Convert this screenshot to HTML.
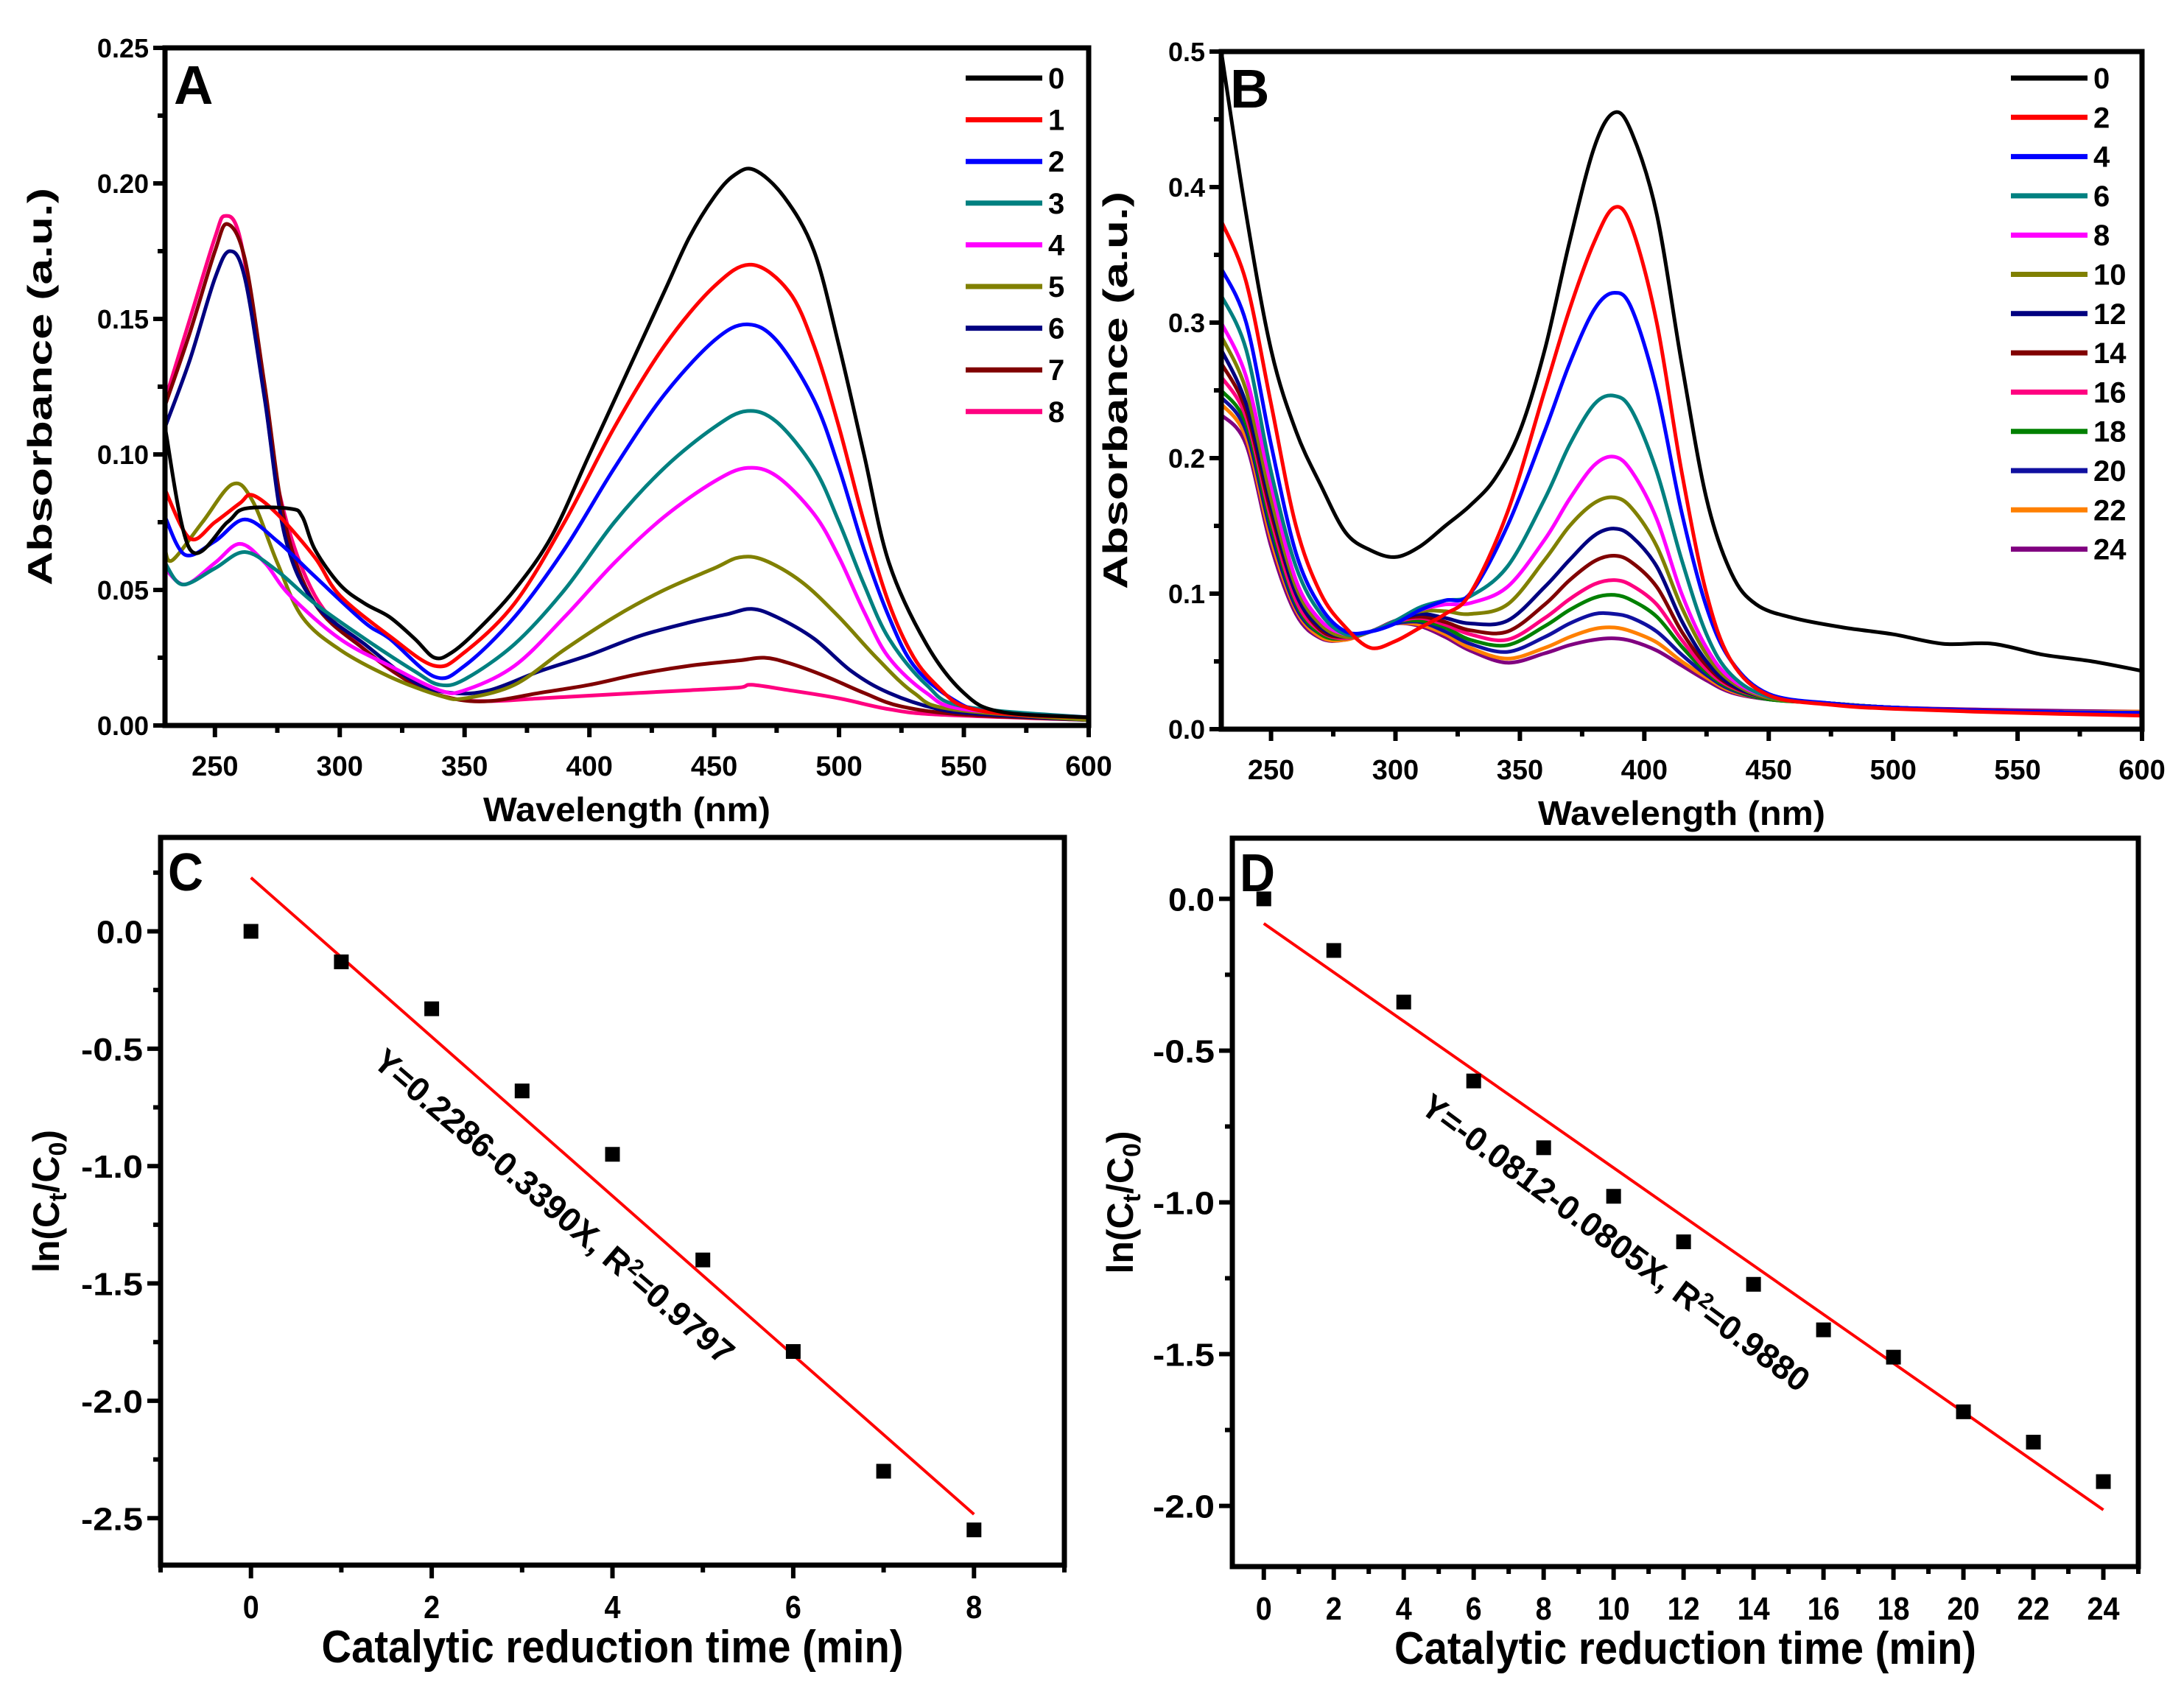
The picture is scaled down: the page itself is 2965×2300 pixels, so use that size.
<!DOCTYPE html>
<html><head><meta charset="utf-8">
<style>
html,body{margin:0;padding:0;background:#fff;}
svg{display:block;font-family:"Liberation Sans",Arial,sans-serif;font-weight:bold;}
</style></head>
<body>
<svg id="fig" width="2965" height="2300" viewBox="0 0 2965 2300" xmlns="http://www.w3.org/2000/svg"></svg>
<script>
// ---------- Panel A data ----------
const aLabels = ["0","1","2","3","4","5","6","7","8"];
const aColors = ["#000000","#ff0000","#0000ff","#008080","#ff00ff","#808000","#000080","#800000","#ff0080"];
const aW0 = [230,240,255,262,280,285,290,300,310,320,330,338,345,355,370,385,400,415,430,440,450,458,466,478,490,500,510,520,535,550,565,600];
const aV0 = [0.110,0.065,0.075,0.080,0.080,0.077,0.065,0.052,0.045,0.040,0.032,0.025,0.027,0.035,0.050,0.070,0.100,0.130,0.160,0.180,0.195,0.203,0.205,0.195,0.175,0.140,0.100,0.060,0.030,0.012,0.005,0.003];
const aW1 = [230,240,250,260,265,275,290,300,320,338,350,370,390,410,430,450,465,480,490,500,510,520,530,540,550,570,600];
const aV1 = [0.087,0.069,0.075,0.082,0.085,0.078,0.062,0.048,0.033,0.022,0.027,0.045,0.075,0.110,0.140,0.162,0.170,0.160,0.140,0.110,0.075,0.045,0.025,0.014,0.007,0.004,0.003];
const aW2 = [230,238,250,262,275,290,310,320,338,350,370,390,410,430,450,463,475,490,500,510,520,530,545,560,600];
const aV2 = [0.077,0.063,0.068,0.076,0.068,0.055,0.038,0.032,0.018,0.022,0.040,0.065,0.095,0.122,0.142,0.148,0.142,0.120,0.095,0.065,0.040,0.022,0.010,0.005,0.003];
const aW3 = [230,237,250,262,275,290,310,330,340,350,370,390,410,430,450,463,475,490,500,510,520,535,550,600];
const aV3 = [0.060,0.052,0.058,0.064,0.057,0.045,0.032,0.020,0.015,0.017,0.030,0.050,0.075,0.095,0.110,0.116,0.112,0.095,0.075,0.052,0.032,0.015,0.007,0.003];
const aW4 = [230,238,250,260,270,280,300,320,340,350,370,390,410,430,450,463,475,490,500,510,520,535,550,600];
const aV4 = [0.058,0.052,0.060,0.067,0.060,0.048,0.032,0.022,0.013,0.013,0.022,0.040,0.060,0.077,0.090,0.095,0.092,0.078,0.062,0.042,0.025,0.012,0.006,0.003];
const aW5 = [230,233,245,257,265,275,285,300,320,340,350,370,390,410,430,450,460,470,485,500,515,530,545,600];
const aV5 = [0.065,0.061,0.075,0.089,0.083,0.060,0.040,0.028,0.018,0.011,0.010,0.015,0.028,0.040,0.050,0.058,0.062,0.061,0.053,0.040,0.025,0.012,0.006,0.002];
const aW6 = [230,240,250,256,262,270,278,290,310,330,345,360,380,400,420,440,455,465,475,490,505,520,540,560,600];
const aV6 = [0.110,0.135,0.165,0.175,0.165,0.120,0.070,0.045,0.030,0.016,0.012,0.013,0.020,0.026,0.033,0.038,0.041,0.043,0.040,0.032,0.020,0.012,0.006,0.004,0.002];
const aW7 = [230,240,250,255,262,270,278,290,310,330,345,360,380,400,420,440,460,470,480,495,510,525,550,600];
const aV7 = [0.118,0.145,0.175,0.185,0.172,0.125,0.075,0.045,0.028,0.015,0.010,0.009,0.012,0.015,0.019,0.022,0.024,0.025,0.023,0.018,0.012,0.007,0.004,0.002];
const aW8 = [230,240,250,254,260,268,276,290,310,330,345,360,380,400,420,440,460,465,480,500,520,540,600];
const aV8 = [0.120,0.150,0.180,0.188,0.180,0.135,0.085,0.048,0.028,0.015,0.010,0.009,0.010,0.011,0.012,0.013,0.014,0.015,0.013,0.010,0.006,0.004,0.002];
const aWs = [aW0,aW1,aW2,aW3,aW4,aW5,aW6,aW7,aW8];
const aVs = [aV0,aV1,aV2,aV3,aV4,aV5,aV6,aV7,aV8];
const aYTicks = ["0.00","0.05","0.10","0.15","0.20","0.25"];
const aXTicks = ["250","300","350","400","450","500","550","600"];

// ---------- Panel B data ----------
const bLabels = ["0","2","4","6","8","10","12","14","16","18","20","22","24"];
const bColors = ["#000000","#ff0000","#0000ff","#008080","#ff00ff","#808000","#000080","#800000","#ff0080","#008000","#1010a0","#ff8000","#800080"];
const bW0 = [230,240,250,260,270,280,290,300,310,320,330,340,350,360,370,380,388,395,405,415,425,435,445,460,480,500,520,540,560,580,600];
const bV0 = [0.50,0.38,0.28,0.22,0.18,0.145,0.132,0.127,0.135,0.150,0.165,0.185,0.22,0.28,0.36,0.43,0.455,0.44,0.38,0.27,0.17,0.115,0.092,0.082,0.075,0.070,0.063,0.063,0.055,0.050,0.043];
const bW = [230,240,250,260,270,280,290,300,310,320,330,345,360,370,380,388,395,405,415,425,435,450,475,500,550,600];
const bV2 = [0.375,0.33,0.24,0.15,0.10,0.075,0.06,0.065,0.075,0.085,0.10,0.16,0.25,0.31,0.36,0.385,0.37,0.30,0.19,0.10,0.05,0.025,0.018,0.015,0.012,0.010];
const bV4 = [0.34,0.30,0.21,0.13,0.09,0.072,0.072,0.078,0.088,0.095,0.10,0.15,0.22,0.27,0.31,0.322,0.31,0.25,0.16,0.09,0.05,0.026,0.019,0.016,0.013,0.012];
const bV6 = [0.32,0.28,0.19,0.12,0.085,0.07,0.072,0.08,0.09,0.095,0.098,0.12,0.17,0.21,0.24,0.246,0.235,0.19,0.125,0.07,0.04,0.024,0.019,0.016,0.013,0.012];
const bV8 = [0.30,0.26,0.18,0.11,0.08,0.07,0.072,0.08,0.088,0.092,0.093,0.105,0.14,0.17,0.195,0.201,0.19,0.155,0.10,0.06,0.037,0.024,0.019,0.016,0.013,0.012];
const bV10 = [0.29,0.25,0.17,0.105,0.077,0.068,0.072,0.08,0.087,0.087,0.085,0.092,0.125,0.15,0.167,0.171,0.163,0.135,0.09,0.055,0.035,0.023,0.019,0.016,0.013,0.012];
const bV12 = [0.28,0.24,0.165,0.10,0.075,0.068,0.072,0.08,0.085,0.082,0.078,0.08,0.105,0.125,0.143,0.148,0.142,0.12,0.08,0.05,0.033,0.023,0.019,0.016,0.013,0.012];
const bV14 = [0.27,0.235,0.16,0.10,0.073,0.068,0.072,0.08,0.083,0.079,0.073,0.072,0.092,0.11,0.124,0.128,0.123,0.105,0.072,0.047,0.032,0.023,0.019,0.016,0.013,0.012];
const bV16 = [0.26,0.23,0.155,0.095,0.072,0.067,0.072,0.079,0.082,0.077,0.07,0.066,0.082,0.096,0.107,0.110,0.106,0.092,0.066,0.044,0.031,0.023,0.019,0.016,0.013,0.012];
const bV18 = [0.25,0.225,0.15,0.093,0.07,0.067,0.072,0.079,0.08,0.075,0.066,0.062,0.076,0.088,0.097,0.099,0.095,0.083,0.061,0.042,0.03,0.022,0.019,0.016,0.013,0.012];
const bV20 = [0.245,0.22,0.145,0.09,0.07,0.067,0.072,0.078,0.079,0.072,0.063,0.057,0.068,0.078,0.085,0.085,0.082,0.072,0.055,0.04,0.029,0.022,0.019,0.016,0.013,0.012];
const bV22 = [0.24,0.215,0.14,0.088,0.068,0.066,0.072,0.078,0.077,0.07,0.06,0.052,0.06,0.068,0.074,0.075,0.072,0.064,0.05,0.038,0.028,0.022,0.019,0.016,0.013,0.013];
const bV24 = [0.232,0.21,0.135,0.085,0.067,0.066,0.072,0.078,0.076,0.068,0.058,0.049,0.056,0.062,0.066,0.067,0.065,0.058,0.047,0.036,0.027,0.022,0.019,0.016,0.014,0.013];
const bWs = [bW0,bW,bW,bW,bW,bW,bW,bW,bW,bW,bW,bW,bW];
const bVs = [bV0,bV2,bV4,bV6,bV8,bV10,bV12,bV14,bV16,bV18,bV20,bV22,bV24];
const bYTicks = ["0.0","0.1","0.2","0.3","0.4","0.5"];
const bXTicks = ["250","300","350","400","450","500","550","600"];

// ---------- Panel C data ----------
const cTimes = [0,1,2,3,4,5,6,7,8];
const cValues = [0,-0.13,-0.33,-0.68,-0.95,-1.40,-1.79,-2.30,-2.55];
const cIntercept = 0.2286, cSlope = -0.3390;
const cYTicks = ["-2.5","-2.0","-1.5","-1.0","-0.5","0.0"];
const cXTicks = ["0","2","4","6","8"];

// ---------- Panel D data ----------
const dTimes = [0,2,4,6,8,10,12,14,16,18,20,22,24];
const dValues = [0,-0.17,-0.34,-0.60,-0.82,-0.98,-1.13,-1.27,-1.42,-1.51,-1.69,-1.79,-1.92];
const dIntercept = -0.0812, dSlope = -0.0805;
const dYTicks = ["-2.0","-1.5","-1.0","-0.5","0.0"];
const dXTicks = ["0","2","4","6","8","10","12","14","16","18","20","22","24"];

const NS = "http://www.w3.org/2000/svg";
const svg = document.getElementById('fig');
function mk(tag, attrs, parent){const e=document.createElementNS(NS,tag);for(const k in attrs)e.setAttribute(k,attrs[k]);(parent||svg).appendChild(e);return e;}
function lin(d0,d1,r0,r1){return v=>r0+(v-d0)*(r1-r0)/(d1-d0);}
function smoothPath(pts){
  let d="M"+pts[0][0].toFixed(1)+","+pts[0][1].toFixed(1);
  for(let i=0;i<pts.length-1;i++){
    const p0=pts[i-1]||pts[i],p1=pts[i],p2=pts[i+1],p3=pts[i+2]||p2;
    const c1=[p1[0]+(p2[0]-p0[0])/6,p1[1]+(p2[1]-p0[1])/6];
    const c2=[p2[0]-(p3[0]-p1[0])/6,p2[1]-(p3[1]-p1[1])/6];
    d+=" C"+c1[0].toFixed(1)+","+c1[1].toFixed(1)+" "+c2[0].toFixed(1)+","+c2[1].toFixed(1)+" "+p2[0].toFixed(1)+","+p2[1].toFixed(1);
  }
  return d;
}
function frame(g,L,R,T,B){
  const r=mk('rect',{x:L,y:T,width:R-L,height:B-T,fill:'none',stroke:'#000','stroke-width':7},g);
  
  
}
function txt(g,x,y,s,size,anchor,name,extra){
  const t=mk('text',Object.assign({x:x,y:y,'font-size':size,'text-anchor':anchor||'middle',fill:'#000'},extra||{}),g);
  t.textContent=s;
  
  
  return t;
}

// ===== spectra panels =====
function spectra(cfg){
  const g=mk('g',{});
  
  
  const X=lin(230,600,cfg.L,cfg.R), Y=lin(0,cfg.ymax,cfg.B,cfg.T);
  const clip=mk('clipPath',{id:cfg.name+'-clip'},g);
  mk('rect',{x:cfg.L,y:cfg.T,width:cfg.R-cfg.L,height:cfg.B-cfg.T},clip);
  const cg=mk('g',{'clip-path':'url(#'+cfg.name+'-clip)'},g);
  for(let i=cfg.Ws.length-1;i>=0;i--){
    const pts=cfg.Ws[i].map((w,j)=>[X(w),Y(cfg.Vs[i][j])]);
    const p=mk('path',{d:smoothPath(pts),fill:'none',stroke:cfg.colors[i],'stroke-width':5,'stroke-linejoin':'round'},cg);
    
    
  }
  frame(g,cfg.L,cfg.R,cfg.T,cfg.B);
  for(let w=250;w<=600;w+=25){
    const major=(w%50===0);
    mk('line',{x1:X(w),x2:X(w),y1:cfg.B,y2:cfg.B+(major?16:10),stroke:'#000','stroke-width':6},g);
  }
  cfg.xticks.forEach(s=>txt(g,X(+s),cfg.B+68,s,38,'middle','x-tick-label'));
  const ystep=cfg.ymax/5;
  for(let k=0;k<=10;k++){
    const v=k*ystep/2;
    mk('line',{x1:cfg.L,x2:cfg.L-(k%2===0?16:10),y1:Y(v),y2:Y(v),stroke:'#000','stroke-width':6},g);
  }
  cfg.yticks.forEach(s=>txt(g,cfg.L-22,Y(+s)+13,s,36,'end','y-tick-label'));
  txt(g,(cfg.L+cfg.R)/2,cfg.B+130,'Wavelength (nm)',46,'middle','x-axis-title',{textLength:cfg.xtl,lengthAdjust:'spacingAndGlyphs'});
  txt(g,0,0,'Absorbance (a.u.)',46,'middle','y-axis-title',{transform:'translate('+cfg.ytx+','+(cfg.T+cfg.B)/2+') rotate(-90)',textLength:540,lengthAdjust:'spacingAndGlyphs'});
  txt(g,cfg.L+12,cfg.T+76,cfg.letter,74,'start','panel-letter');
  cfg.labels.forEach((s,i)=>{
    const y=cfg.legY0+i*cfg.legDy;
    const l=mk('line',{x1:cfg.legX,x2:cfg.legX+104,y1:y,y2:y,stroke:cfg.colors[i],'stroke-width':7},g);
    
    
    txt(g,cfg.legX+112,y+14,s,40,'start','legend-label-'+s);
  });
}
spectra({name:'panel-a',L:224,R:1478,T:65,B:985,ymax:0.25,Ws:aWs,Vs:aVs,colors:aColors,labels:aLabels,xticks:aXTicks,yticks:aYTicks,letter:'A',legX:1311,legY0:106,legDy:56.6,xtl:390,ytx:70});
spectra({name:'panel-b',L:1658,R:2908,T:70,B:990,ymax:0.5,Ws:bWs,Vs:bVs,colors:bColors,labels:bLabels,xticks:bXTicks,yticks:bYTicks,letter:'B',legX:2730,legY0:106,legDy:53.3,xtl:390,ytx:1530});

// ===== kinetics panels =====
function kinetics(cfg){
  const g=mk('g',{});
  
  
  const X=lin(cfg.x0,cfg.x1,cfg.L,cfg.R), Y=lin(cfg.y0,cfg.y1,cfg.B,cfg.T);
  frame(g,cfg.L,cfg.R,cfg.T,cfg.B);
  for(let v=Math.ceil(cfg.x0);v<=cfg.x1;v+=cfg.minorX){
    const major=((v%cfg.majorX)===0);
    mk('line',{x1:X(v),x2:X(v),y1:cfg.B,y2:cfg.B+(major?18:10),stroke:'#000','stroke-width':6},g);
  }
  cfg.xticks.forEach(s=>txt(g,X(+s),cfg.B+72,s,44,'middle','x-tick-label',{textLength:(s.length*22),lengthAdjust:'spacingAndGlyphs'}));
  for(let v=cfg.yMinTick;v<=cfg.y1+1e-9;v+=0.25){
    const major=Math.abs(Math.round(v*2)-v*2)<1e-6;
    mk('line',{x1:cfg.L,x2:cfg.L-(major?18:10),y1:Y(v),y2:Y(v),stroke:'#000','stroke-width':6},g);
  }
  cfg.yticks.forEach(s=>txt(g,cfg.L-24,Y(+s)+16,s,44,'end','y-tick-label',{textLength:(s.length*21),lengthAdjust:'spacingAndGlyphs'}));
  const fx0=cfg.times[0], fx1=cfg.times[cfg.times.length-1];
  const fl=mk('line',{x1:X(fx0),y1:Y(cfg.b+cfg.m*fx0),x2:X(fx1),y2:Y(cfg.b+cfg.m*fx1),stroke:'#ff0000','stroke-width':4},g);
  
  
  cfg.times.forEach((t,i)=>{
    const r=mk('rect',{x:X(t)-10,y:Y(cfg.vals[i])-10,width:20,height:20,fill:'#000'},g);
    
    
  });
  txt(g,(cfg.L+cfg.R)/2,cfg.B+132,'Catalytic reduction time (min)',62,'middle','x-axis-title',{textLength:790,lengthAdjust:'spacingAndGlyphs'});
  const yt=txt(g,0,0,'',50,'middle','y-axis-title',{transform:'translate('+cfg.ytx+','+(cfg.T+cfg.B)/2+') rotate(-90)'});
  yt.innerHTML='ln(C<tspan font-size="34" dy="10">t</tspan><tspan dy="-10">/C</tspan><tspan font-size="34" dy="10">0</tspan><tspan dy="-10">)</tspan>';
  txt(g,cfg.L+10,cfg.T+72,cfg.letter,72,'start','panel-letter',{textLength:48,lengthAdjust:'spacingAndGlyphs'});
  const eq=txt(g,0,0,'',46,'middle','fit-equation',{transform:'translate('+cfg.eqx+','+cfg.eqy+') rotate('+cfg.eqa+')'});
  eq.innerHTML=cfg.eq;
}
kinetics({name:'panel-c',L:218,R:1445,T:1137,B:2125,x0:-1,x1:9,y0:-2.70,y1:0.40,minorX:1,majorX:2,yMinTick:-2.5,
  times:cTimes,vals:cValues,b:cIntercept,m:cSlope,xticks:cXTicks,yticks:cYTicks,letter:'C',ytx:80,
  eqx:742,eqy:1650,eqa:40.7,eq:'Y=0.2286-0.3390X, R<tspan font-size="30" dy="-16">2</tspan><tspan dy="16">=0.9797</tspan>'});
kinetics({name:'panel-d',L:1673,R:2903,T:1138,B:2127,x0:-0.9,x1:25,y0:-2.2,y1:0.2,minorX:1,majorX:2,yMinTick:-2.0,
  times:dTimes,vals:dValues,b:dIntercept,m:dSlope,xticks:dXTicks,yticks:dYTicks,letter:'D',ytx:1538,
  eqx:2184,eqy:1700,eqa:36.6,eq:'Y=-0.0812-0.0805X, R<tspan font-size="30" dy="-16">2</tspan><tspan dy="16">=0.9880</tspan>'});
</script>
</body></html>
